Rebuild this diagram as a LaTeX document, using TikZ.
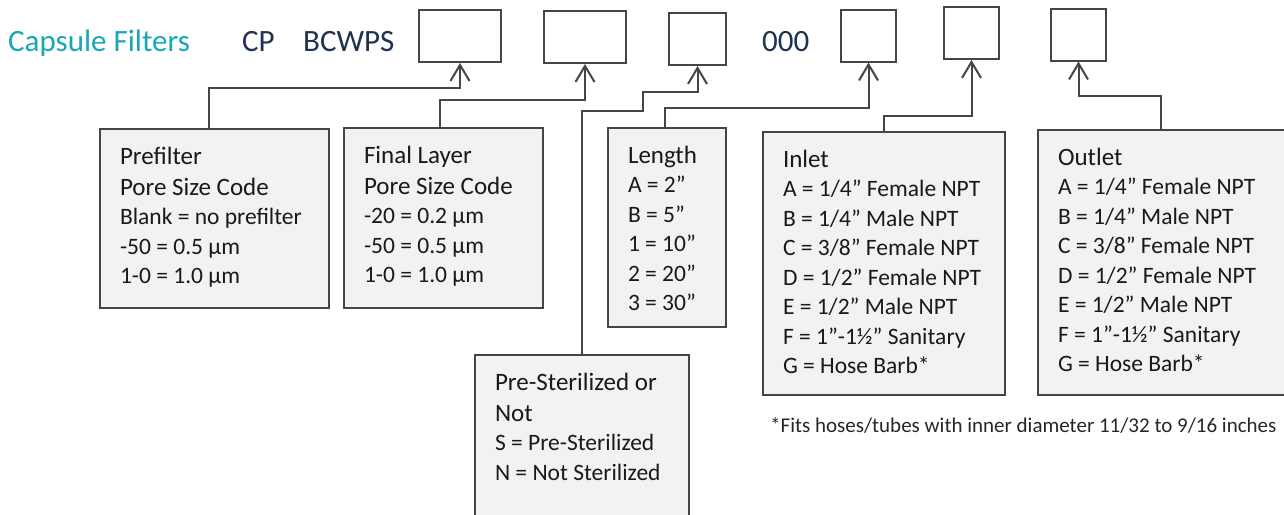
\documentclass[tikz,border=0pt]{standalone}
\usepackage{fontspec}
\setmainfont{Carlito}
\usetikzlibrary{arrows.meta}

\definecolor{capteal}{HTML}{17A8B8}
\definecolor{codenavy}{HTML}{1E3350}
\definecolor{linegray}{HTML}{454545}
\definecolor{boxgray}{HTML}{F2F2F2}

\newcommand\ttl{\fontsize{25}{31}\selectfont}
\newcommand\itm{\fontsize{23.5}{29.5}\selectfont}
% box text: height, width, lines (top aligned)
\newcommand\boxtxt[3]{\parbox[c][#1][t]{#2}{\raggedright\leftskip=20pt #3}}
\newcommand\firstrule{\rule{0pt}{35pt}}

\begin{document}
\begin{tikzpicture}[
x=1pt, y=-1pt,
hdr/.style={anchor=base west, inner sep=0, font=\fontsize{31}{37}\selectfont, text=codenavy},
slot/.style={draw=linegray, line width=2pt, minimum height=52pt, inner sep=0},
code/.style={draw=linegray, fill=boxgray, line width=2pt, anchor=north west, inner sep=0, text=black!90},
link/.style={draw=linegray, line width=2pt, -{Straight Barb[length=16pt,width=19pt]}},
note/.style={anchor=base west, inner sep=0, font=\fontsize{21}{25}\selectfont, text=black!85}
]
\useasboundingbox (0,0) rectangle (1284,514);
\clip (0,0) rectangle (1284,514);

%%% part number
\node[hdr, text=capteal] (cap) at (8,51) {Capsule Filters};
\node[hdr] (cp) at (242,51) {CP};
\node[hdr] (bcwps) at (303,51) {BCWPS};
\node[hdr] (zero) at (762,51) {000};

\foreach \n/\x/\y/\w in {1/460/36/82, 2/585/37/82, 3/697.5/39/57, 4/868.5/35.5/55, 5/971.5/33/55, 6/1078.5/34.5/55}{
	\node[slot, minimum width=\w] (s\n) at (\x,\y) {};
}

%%% code boxes
\node[code] (pre) at (99,128) {\boxtxt{179pt}{229pt}{%
	{\ttl\firstrule Prefilter\\Pore Size Code\par}
	\itm Blank = no prefilter\\-50 = 0.5 µm\\1-0 = 1.0 µm\par}};
\node[code] (fin) at (343,127) {\boxtxt{180pt}{199pt}{%
	{\ttl\firstrule Final Layer\\Pore Size Code\par}
	\itm -20 = 0.2 µm\\-50 = 0.5 µm\\1-0 = 1.0 µm\par}};
\node[code] (len) at (607,127) {\boxtxt{199pt}{118pt}{%
	{\ttl\firstrule Length\par}
	\itm A = 2”\\B = 5”\\1 = 10”\\2 = 20”\\3 = 30”\par}};
\node[code] (ster) at (474,354) {\boxtxt{180pt}{214pt}{%
	{\ttl\firstrule Pre-Sterilized or\\Not\par}
	\itm S = Pre-Sterilized\\N = Not Sterilized\par}};
\node[code] (inl) at (762,131) {\boxtxt{263pt}{242pt}{%
	{\ttl\firstrule Inlet\par}
	\itm A = 1/4” Female NPT\\B = 1/4” Male NPT\\C = 3/8” Female NPT\\D = 1/2” Female NPT\\
	E = 1/2” Male NPT\\F = 1”-1½” Sanitary\\G = Hose Barb*\par}};
\node[code] (outl) at (1037,129) {\boxtxt{265pt}{270pt}{%
	{\ttl\firstrule Outlet\par}
	\itm A = 1/4” Female NPT\\B = 1/4” Male NPT\\C = 3/8” Female NPT\\D = 1/2” Female NPT\\
	E = 1/2” Male NPT\\F = 1”-1½” Sanitary\\G = Hose Barb*\par}};

\node[note] (fn) at (770,432) {*Fits hoses/tubes with inner diameter 11/32 to 9/16 inches};

%%% connectors
\draw[link] ([xshift=-5.5pt]pre.north) -- ++(0,-40) -| (s1.south);
\draw[link] ([xshift=-4pt]fin.north) -- ++(0,-27) -| (s2.south);
\draw[link] (ster.north) -- ++(0,-243) -- ++(61,0) -- ++(0,-19) -| (s3.south);
\draw[link] ([xshift=-2pt]len.north) -- ++(0,-19) -| (s4.south);
\draw[link] (inl.north) -- ++(0,-15) -| (s5.south);
\draw[link] ([xshift=-12pt]outl.north) -- ++(0,-33) -| (s6.south);

\end{tikzpicture}
\end{document}
